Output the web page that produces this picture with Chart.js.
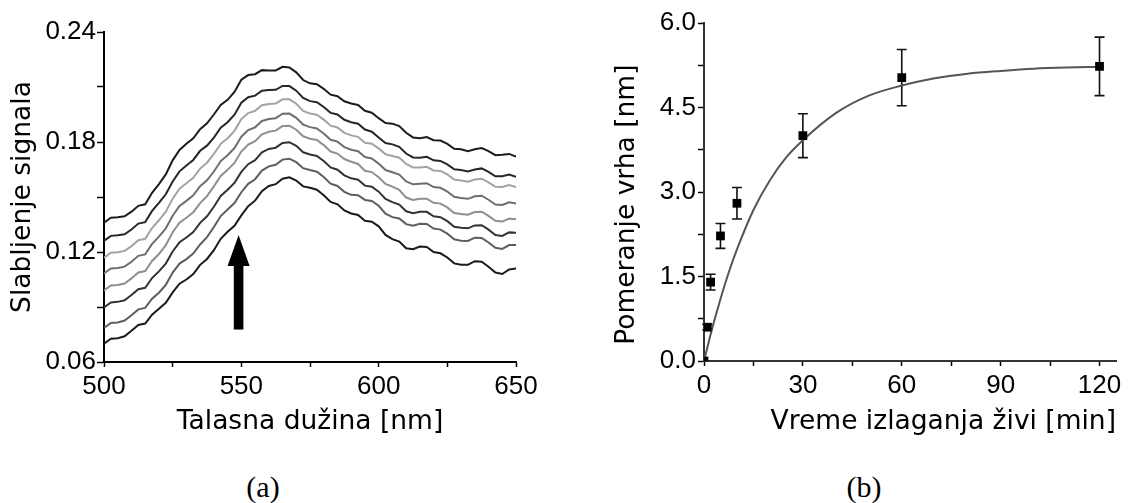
<!DOCTYPE html>
<html>
<head>
<meta charset="utf-8">
<script src="https://cdn.jsdelivr.net/npm/chart.js@4.4.1/dist/chart.umd.min.js"></script>
<style>
  body { margin: 0; background: #fff; width: 1128px; height: 503px; position: relative; overflow: hidden; }
  .panel { position: absolute; top: 0; height: 445px; }
  #panel_a { left: 0; width: 560px; }
  #panel_b { left: 596px; width: 532px; }
  .caption { position: absolute; top: 470px; font-family: "Liberation Serif", serif; font-size: 30px; line-height: 34px; transform: translateX(-50%); color: #000; }
</style>
</head>
<body>
<div class="panel" id="panel_a"><canvas id="chart_a"></canvas></div>
<div class="panel" id="panel_b"><canvas id="chart_b"></canvas></div>
<div class="caption" style="left: 263px">(a)</div>
<div class="caption" style="left: 864px">(b)</div>

<script>
// ---- panel (a): spectra ----
const wavelengths = [
  500, 502.5, 505, 507.5, 510, 512.5, 515, 517.5, 520, 522.5,
  525, 527.5, 530, 532.5, 535, 537.5, 540, 542.5, 545, 547.5,
  550, 552.5, 555, 557.5, 560, 562.5, 565, 567.5, 570, 572.5,
  575, 577.5, 580, 582.5, 585, 587.5, 590, 592.5, 595, 597.5,
  600, 602.5, 605, 607.5, 610, 612.5, 615, 617.5, 620, 622.5,
  625, 627.5, 630, 632.5, 635, 637.5, 640, 642.5, 645, 647.5,
  650,
];

const spectrum_1 = [
  0.136, 0.1387, 0.139, 0.1395, 0.142, 0.1452, 0.146, 0.1523, 0.157, 0.1623,
  0.170, 0.1757, 0.179, 0.1820, 0.187, 0.1902, 0.195, 0.2002, 0.203, 0.2073,
  0.214, 0.2165, 0.217, 0.2192, 0.219, 0.2190, 0.221, 0.2207, 0.218, 0.2138,
  0.212, 0.2115, 0.209, 0.2058, 0.205, 0.2022, 0.201, 0.2002, 0.197, 0.1960,
  0.193, 0.1903, 0.190, 0.1887, 0.185, 0.1825, 0.182, 0.1827, 0.181, 0.1808,
  0.179, 0.1763, 0.176, 0.1750, 0.176, 0.1767, 0.175, 0.1728, 0.173, 0.1735,
  0.172,
];
const spectrum_2 = [
  0.1261, 0.1288, 0.1291, 0.1297, 0.1323, 0.1355, 0.1363, 0.1424, 0.1468, 0.1515,
  0.1585, 0.1640, 0.1672, 0.1702, 0.1752, 0.1780, 0.1824, 0.1878, 0.1908, 0.1949,
  0.2014, 0.2044, 0.2053, 0.2080, 0.2083, 0.2085, 0.2106, 0.2105, 0.2080, 0.2040,
  0.2023, 0.2017, 0.1991, 0.1959, 0.1950, 0.1921, 0.1908, 0.1900, 0.1868, 0.1856,
  0.1824, 0.1794, 0.1787, 0.1774, 0.1737, 0.1716, 0.1714, 0.1719, 0.1700, 0.1697,
  0.1678, 0.1651, 0.1647, 0.1639, 0.1650, 0.1656, 0.1637, 0.1613, 0.1613, 0.1622,
  0.1610,
];
const spectrum_3 = [
  0.1169, 0.1196, 0.1199, 0.1206, 0.1232, 0.1264, 0.1272, 0.1331, 0.1373, 0.1420,
  0.1491, 0.1545, 0.1575, 0.1605, 0.1655, 0.1687, 0.1735, 0.1790, 0.1821, 0.1861,
  0.1925, 0.1958, 0.1970, 0.2001, 0.2007, 0.2010, 0.2033, 0.2033, 0.2009, 0.1970,
  0.1955, 0.1949, 0.1922, 0.1889, 0.1879, 0.1850, 0.1836, 0.1828, 0.1796, 0.1791,
  0.1765, 0.1733, 0.1724, 0.1714, 0.1680, 0.1661, 0.1661, 0.1665, 0.1645, 0.1642,
  0.1623, 0.1595, 0.1590, 0.1583, 0.1595, 0.1600, 0.1580, 0.1556, 0.1555, 0.1565,
  0.1555,
];
const spectrum_4 = [
  0.1083, 0.1110, 0.1113, 0.1120, 0.1147, 0.1179, 0.1187, 0.1244, 0.1284, 0.1329,
  0.1398, 0.1451, 0.1479, 0.1509, 0.1559, 0.1591, 0.1639, 0.1696, 0.1728, 0.1767,
  0.1829, 0.1865, 0.1880, 0.1915, 0.1925, 0.1930, 0.1954, 0.1955, 0.1932, 0.1895,
  0.1881, 0.1874, 0.1846, 0.1812, 0.1802, 0.1772, 0.1758, 0.1750, 0.1718, 0.1710,
  0.1682, 0.1647, 0.1635, 0.1622, 0.1585, 0.1569, 0.1572, 0.1575, 0.1554, 0.1550,
  0.1530, 0.1501, 0.1495, 0.1490, 0.1504, 0.1507, 0.1485, 0.1459, 0.1457, 0.1471,
  0.1464,
];
const spectrum_5 = [
  0.0990, 0.1017, 0.1020, 0.1028, 0.1056, 0.1088, 0.1096, 0.1151, 0.1189, 0.1237,
  0.1308, 0.1360, 0.1387, 0.1417, 0.1467, 0.1505, 0.1558, 0.1615, 0.1648, 0.1686,
  0.1748, 0.1786, 0.1804, 0.1842, 0.1856, 0.1862, 0.1887, 0.1889, 0.1867, 0.1831,
  0.1818, 0.1811, 0.1783, 0.1748, 0.1737, 0.1707, 0.1692, 0.1680, 0.1643, 0.1636,
  0.1608, 0.1571, 0.1557, 0.1539, 0.1497, 0.1484, 0.1490, 0.1491, 0.1468, 0.1464,
  0.1443, 0.1413, 0.1407, 0.1403, 0.1418, 0.1420, 0.1397, 0.1370, 0.1366, 0.1382,
  0.1378,
];
const spectrum_6 = [
  0.0898, 0.0925, 0.0928, 0.0937, 0.0965, 0.0997, 0.1005, 0.1058, 0.1094, 0.1137,
  0.1203, 0.1253, 0.1279, 0.1309, 0.1359, 0.1395, 0.1447, 0.1506, 0.1540, 0.1577,
  0.1637, 0.1679, 0.1701, 0.1744, 0.1762, 0.1769, 0.1795, 0.1799, 0.1779, 0.1744,
  0.1732, 0.1724, 0.1696, 0.1661, 0.1649, 0.1618, 0.1602, 0.1594, 0.1562, 0.1556,
  0.1529, 0.1489, 0.1472, 0.1459, 0.1422, 0.1411, 0.1419, 0.1419, 0.1395, 0.1390,
  0.1368, 0.1338, 0.1332, 0.1329, 0.1345, 0.1346, 0.1322, 0.1293, 0.1288, 0.1307,
  0.1305,
];
const spectrum_7 = [
  0.0786, 0.0813, 0.0816, 0.0826, 0.0855, 0.0887, 0.0895, 0.0945, 0.0978, 0.1021,
  0.1088, 0.1137, 0.1161, 0.1191, 0.1241, 0.1281, 0.1336, 0.1396, 0.1432, 0.1467,
  0.1526, 0.1572, 0.1597, 0.1644, 0.1667, 0.1676, 0.1704, 0.1709, 0.1690, 0.1657,
  0.1647, 0.1638, 0.1609, 0.1573, 0.1560, 0.1528, 0.1512, 0.1510, 0.1484, 0.1478,
  0.1452, 0.1409, 0.1390, 0.1383, 0.1352, 0.1343, 0.1354, 0.1353, 0.1328, 0.1322,
  0.1300, 0.1269, 0.1262, 0.1260, 0.1278, 0.1277, 0.1252, 0.1223, 0.1217, 0.1238,
  0.1238,
];
const spectrum_8 = [
  0.070, 0.0727, 0.073, 0.074, 0.077, 0.0802, 0.081, 0.0858, 0.089, 0.0923,
  0.098, 0.1027, 0.105, 0.108, 0.113, 0.1162, 0.121, 0.1272, 0.131, 0.1343,
  0.140, 0.145, 0.148, 0.1532, 0.156, 0.157, 0.160, 0.1607, 0.159, 0.1558,
  0.155, 0.154, 0.151, 0.1473, 0.146, 0.1427, 0.141, 0.1402, 0.137, 0.1365,
  0.134, 0.1293, 0.127, 0.1257, 0.122, 0.1215, 0.123, 0.1227, 0.120, 0.1193,
  0.117, 0.1138, 0.113, 0.113, 0.115, 0.1147, 0.112, 0.1088, 0.108, 0.1105,
  0.111,
];

const spectra = [spectrum_1, spectrum_2, spectrum_3, spectrum_4, spectrum_5, spectrum_6, spectrum_7, spectrum_8];
const spectrumColors = ["#1c1c1c", "#262626", "#a3a3a3", "#6e6e6e", "#8f8f8f", "#333333", "#5e5e5e", "#1a1a1a"];

// arrow, in data units
const arrowWavelength = 549;
const arrowFrom = 0.0777;
const arrowTo = 0.1293;

// ---- panel (b): peak shift ----
const times = [0, 1, 2, 5, 10, 30, 60, 120];
const shifts = [0, 0.6, 1.4, 2.22, 2.8, 4.0, 5.03, 5.23];
const shiftErrors = [0, 0.05, 0.14, 0.22, 0.28, 0.39, 0.5, 0.52];

const fitTimes = [0, 2.5, 5, 7.5, 10, 15, 20, 25, 30, 40, 50, 60, 70, 80, 90, 100, 110, 120];
const fitShifts = [0, 0.58, 1.10, 1.57, 1.98, 2.68, 3.21, 3.62, 3.92, 4.40, 4.71, 4.89, 5.02, 5.10, 5.15, 5.19, 5.21, 5.22];

const tickFont = { family: "'Liberation Sans', Arial, sans-serif", size: 26 };
const titleFont = { family: "'DejaVu Sans', sans-serif", size: 26.5 };

const arrowPlugin = {
  id: "arrow",
  afterDatasetsDraw(chart) {
    const ctx = chart.ctx;
    const x = chart.scales.x.getPixelForValue(arrowWavelength);
    const yBase = chart.scales.y.getPixelForValue(arrowFrom);
    const yTip = chart.scales.y.getPixelForValue(arrowTo);
    const headLen = 31;
    const headHalf = 11;
    const shaftHalf = 4.8;
    ctx.save();
    ctx.fillStyle = "#000";
    ctx.fillRect(x - shaftHalf, yTip + headLen - 1, shaftHalf * 2, yBase - yTip - headLen + 1);
    ctx.beginPath();
    ctx.moveTo(x, yTip);
    ctx.lineTo(x + headHalf, yTip + headLen);
    ctx.lineTo(x - headHalf, yTip + headLen);
    ctx.closePath();
    ctx.fill();
    ctx.restore();
  },
};

const errorBarPlugin = {
  id: "errorBars",
  beforeDatasetsDraw(chart) {
    const ctx = chart.ctx;
    const xs = chart.scales.x;
    const ys = chart.scales.y;
    ctx.save();
    ctx.strokeStyle = "#111";
    ctx.lineWidth = 1.6;
    times.forEach((t, i) => {
      if (!shiftErrors[i]) return;
      const x = xs.getPixelForValue(t);
      const top = ys.getPixelForValue(shifts[i] + shiftErrors[i]);
      const bottom = ys.getPixelForValue(shifts[i] - shiftErrors[i]);
      ctx.beginPath();
      ctx.moveTo(x, top);
      ctx.lineTo(x, bottom);
      ctx.moveTo(x - 5, top);
      ctx.lineTo(x + 5, top);
      ctx.moveTo(x - 5, bottom);
      ctx.lineTo(x + 5, bottom);
      ctx.stroke();
    });
    ctx.restore();
  },
};

function axisGrid(len) {
  return { display: true, drawOnChartArea: false, drawTicks: true, tickLength: len, tickColor: "#000", tickWidth: 1.5 };
}

new Chart(document.getElementById("chart_a"), {
  type: "line",
  data: {
    datasets: spectra.map((s, k) => ({
      data: wavelengths.map((w, i) => ({ x: w, y: s[i] })),
      borderColor: spectrumColors[k],
      borderWidth: 2,
      pointRadius: 0,
      tension: 0,
      fill: false,
    })),
  },
  options: {
    responsive: true,
    maintainAspectRatio: false,
    animation: false,
    layout: { padding: { left: 0, right: 44, top: 32, bottom: 0 } },
    plugins: { legend: { display: false }, tooltip: { enabled: false } },
    scales: {
      x: {
        type: "linear",
        min: 500,
        max: 650,
        afterFit: (scale) => { scale.height = 83; },
        ticks: {
          stepSize: 25,
          autoSkip: false,
          maxRotation: 0,
          padding: 4,
          color: "#000",
          font: tickFont,
          callback: (v) => ((v - 500) % 50 === 0 ? String(v) : ""),
        },
        grid: axisGrid(5),
        border: { display: true, color: "#000", width: 2 },
        title: { display: true, text: "Talasna dužina [nm]", color: "#000", font: titleFont, padding: { top: 0, bottom: 7 } },
      },
      y: {
        min: 0.06,
        max: 0.24,
        afterFit: (scale) => { scale.width = 104; },
        ticks: {
          stepSize: 0.03,
          autoSkip: false,
          padding: 1,
          color: "#000",
          font: tickFont,
          callback: (v) => (Math.round(v * 100) % 6 === 0 ? v.toFixed(2) : ""),
        },
        grid: axisGrid(7),
        border: { display: true, color: "#000", width: 2 },
        title: { display: true, text: "Slabljenje signala", color: "#000", font: titleFont, padding: { top: 7, bottom: 0 } },
      },
    },
  },
  plugins: [arrowPlugin],
});

new Chart(document.getElementById("chart_b"), {
  type: "line",
  data: {
    datasets: [
      {
        data: times.map((t, i) => ({ x: t, y: shifts[i] })),
        showLine: false,
        pointStyle: "rect",
        pointRadius: 6.2,
        pointBackgroundColor: "#000",
        pointBorderColor: "#000",
        pointBorderWidth: 0,
      },
      {
        data: fitTimes.map((t, i) => ({ x: t, y: fitShifts[i] })),
        borderColor: "#555",
        borderWidth: 2,
        pointRadius: 0,
        cubicInterpolationMode: "monotone",
        fill: false,
      },
    ],
  },
  options: {
    responsive: true,
    maintainAspectRatio: false,
    animation: false,
    layout: { padding: { left: 0, right: 12, top: 23, bottom: 0 } },
    plugins: { legend: { display: false }, tooltip: { enabled: false } },
    scales: {
      x: {
        type: "linear",
        min: 0,
        max: 125,
        afterFit: (scale) => { scale.height = 84; },
        ticks: {
          stepSize: 15,
          includeBounds: false,
          autoSkip: false,
          maxRotation: 0,
          padding: 4,
          color: "#000",
          font: tickFont,
          callback: (v) => (v % 30 === 0 ? String(v) : ""),
        },
        grid: axisGrid(5),
        border: { display: true, color: "#333", width: 2 },
        title: { display: true, text: "Vreme izlaganja živi [min]", align: "end", color: "#000", font: titleFont, padding: { top: 0, bottom: 7 } },
      },
      y: {
        min: 0,
        max: 6,
        afterFit: (scale) => { scale.width = 108; },
        ticks: {
          stepSize: 0.75,
          autoSkip: false,
          padding: 2,
          color: "#000",
          font: tickFont,
          callback: (v) => (Math.round(v * 100) % 150 === 0 ? v.toFixed(1) : ""),
        },
        grid: axisGrid(6),
        border: { display: true, color: "#333", width: 2 },
        title: { display: true, text: "Pomeranje vrha [nm]   ", color: "#000", font: titleFont, padding: { top: 15, bottom: 0 } },
      },
    },
  },
  plugins: [errorBarPlugin],
});
</script>
</body>
</html>
